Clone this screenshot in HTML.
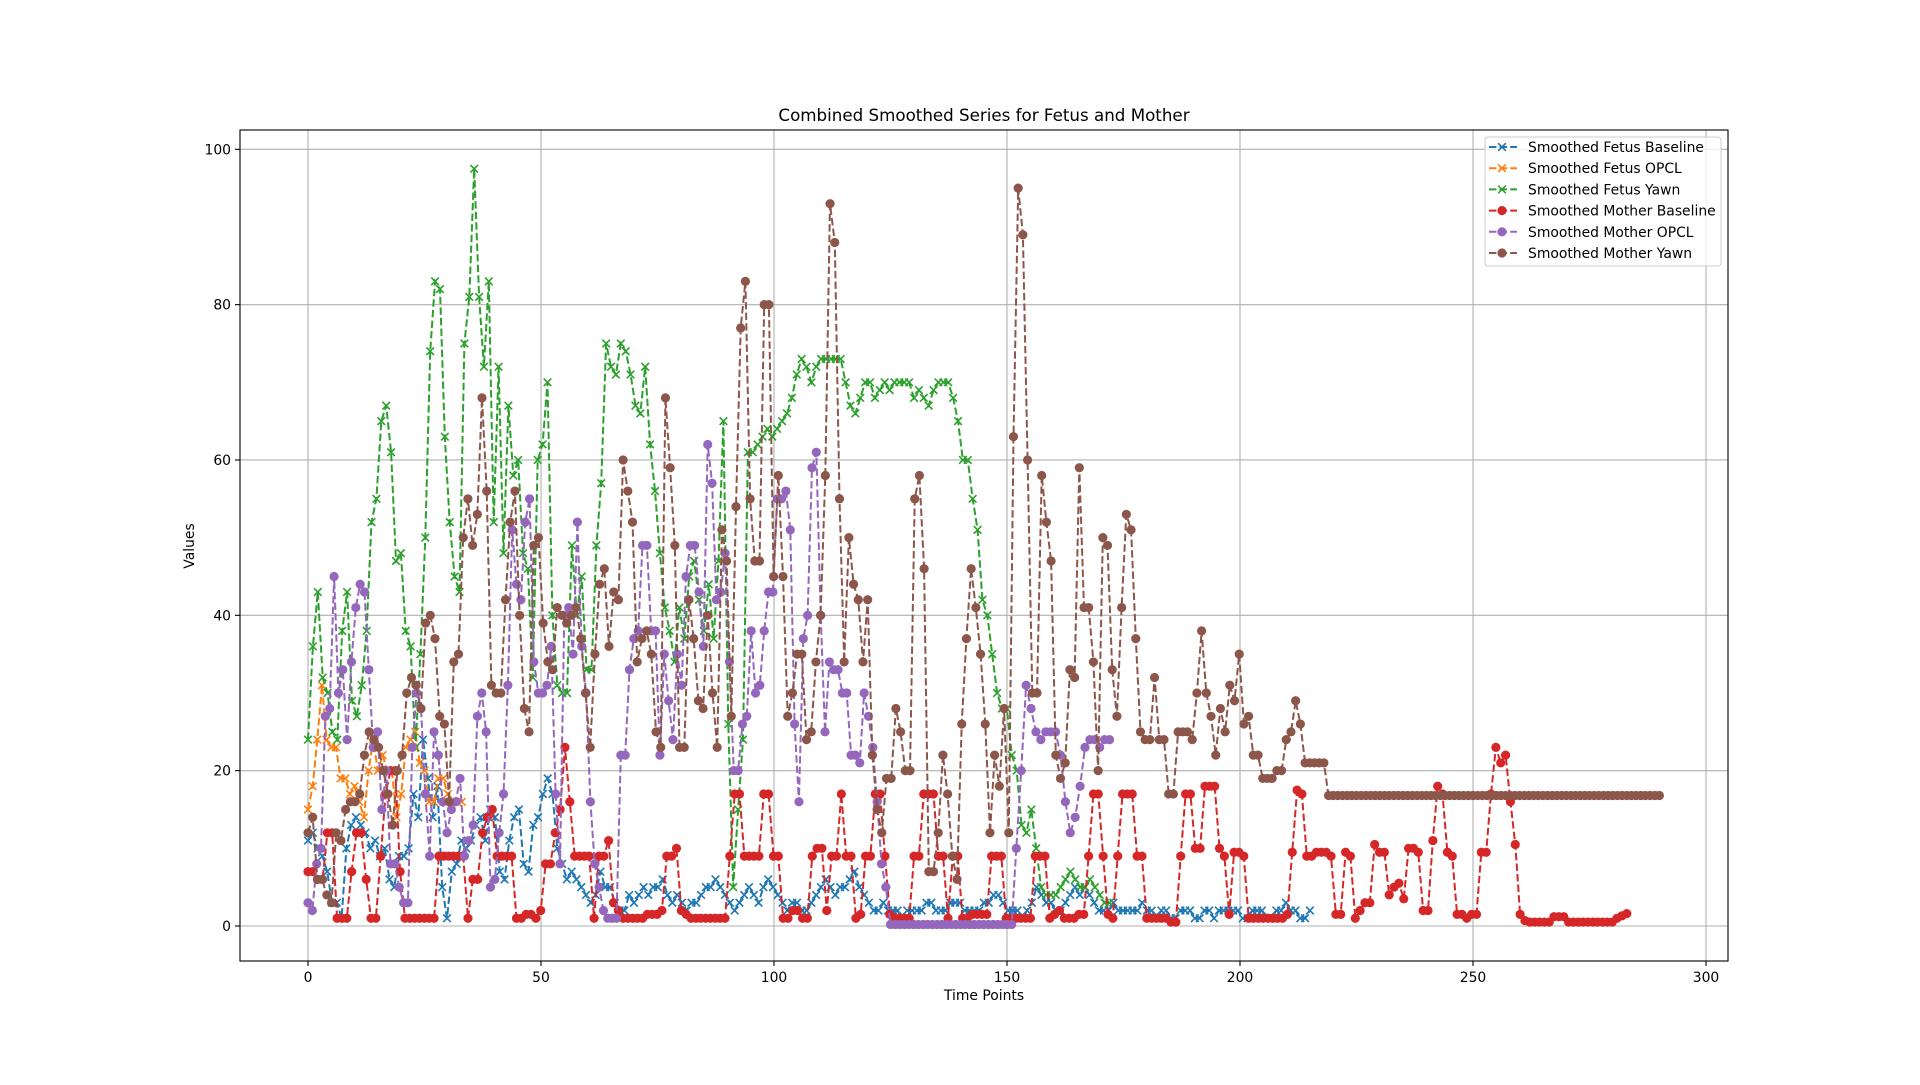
<!DOCTYPE html>
<html><head><meta charset="utf-8"><style>
html,body{margin:0;padding:0;background:#fff;}
svg text{font-family:"DejaVu Sans","Liberation Sans",sans-serif;fill:#000;}
</style></head><body>
<svg id="s" width="1920" height="1080" xmlns="http://www.w3.org/2000/svg">
<rect width="1920" height="1080" fill="#fff"/>
<g id="grid" stroke="#b0b0b0" stroke-width="1.1"></g>
<g id="data"></g>
<rect x="240" y="130" width="1488" height="831" fill="none" stroke="#000" stroke-width="1.1"/>
<g id="ticks" stroke="#000" stroke-width="1.1"></g>
<g id="labels" font-size="13.9"></g>
<text x="984" y="121" font-size="16.7" text-anchor="middle">Combined Smoothed Series for Fetus and Mother</text>
<text x="984" y="1000" font-size="13.9" text-anchor="middle">Time Points</text>
<text transform="translate(194,546) rotate(-90)" font-size="13.9" text-anchor="middle">Values</text>
<g id="legend"></g>
</svg>
<script>
const NS="http://www.w3.org/2000/svg";
function el(t,a,p){const e=document.createElementNS(NS,t);for(const k in a)e.setAttribute(k,a[k]);p.appendChild(e);return e;}
const X=x=>308+x*4.66, Y=y=>926-y*7.767;
const grid=document.getElementById('grid'),ticks=document.getElementById('ticks'),labels=document.getElementById('labels');
for(let v=0;v<=300;v+=50){const x=X(v);el('line',{x1:x,x2:x,y1:130,y2:961},grid);el('line',{x1:x,x2:x,y1:961,y2:966},ticks);const t=el('text',{x:x,y:982,'text-anchor':'middle'},labels);t.textContent=v;}
for(let v=0;v<=100;v+=20){const y=Y(v);el('line',{x1:240,x2:1728,y1:y,y2:y},grid);el('line',{x1:235,x2:240,y1:y,y2:y},ticks);const t=el('text',{x:231,y:y+5,'text-anchor':'end'},labels);t.textContent=v;}
function stretch(arr,x0,x1){const n=arr.length;return arr.map((v,i)=>[x0+(n>1?i*(x1-x0)/(n-1):0),v]);}
const blue=[11,12,10,9,7,3,3,1,10,13,14,13,12,10,11,9,10,6,5,9,9,10,17,14,24,19,14,18,5,1,7,8,11,10,11,13,14,11,15,14,7,6,11,14,15,8,7,13,14,17,19,17,10,8,6,7,6,5,4,3,4,7,5,5,3,2,2,4,3,4,5,4,5,5,6,4,3,4,3,2,3,3,4,5,5,6,5,4,3,2,3,4,5,4,3,5,6,5,4,3,2,3,3,2,2,3,4,5,6,5,4,5,5,6,7,5,4,3,2,2,3,2,2,2,1,2,2,2,2,3,3,2,2,2,3,3,3,2,2,2,2,3,3,4,4,3,2,2,2,1,2,3,5,4,3,3,2,2,3,4,5,4,5,4,3,2,2,2,3,2,2,2,2,2,3,2,2,1,2,2,1,1,2,2,2,1,1,2,2,1,2,2,2,2,2,1,1,2,2,2,1,1,2,2,3,2,2,1,1,2];
const orange=[15,18,24,31,24,23,23,19,19,17,18,16,14,20,24,20,22,20,20,14,17,23,24,25,21,20,16,16,19,19,17,16,16,16];
const green=[24,36,43,32,30,25,24,38,43,29,27,31,38,52,55,65,67,61,47,48,38,36,23,35,50,74,83,82,63,52,45,43,75,81,97.5,81,72,83,52,72,48,67,58,60,48,46,32,60,62,70,40,31,30,30,49,40,45,33,33,49,57,75,72,71,75,74,71,67,66,72,62,56,48,41,38,34,41,37,45,47,42,38,44,37,47,65,26,5,15,24,61,61,62,63,64,63,64,65,66,68,71,73,72,70,72,73,73,73,73,73,70,67,66,68,70,70,68,69,70,69,70,70,70,70,68,69,68,67,69,70,70,70,68,65,60,60,55,51,42,40,35,30,28,28,22,20,13,12,15,10,5,4,4,4,5,6,7,6,5,5,6,5,4,3,3];
const red=[7,7,6,6,12,12,1,1,1,7,12,12,6,1,1,9,17,20,20,7,1,1,1,1,1,1,1,9,9,9,9,9,9,1,6,6,12,14,15,9,9,9,9,1,1,1.5,1.5,1,2,8,8,12,15,23,16,9,9,9,9,1,9,9,11,3,2,1,1,1,1,1,1.5,1.5,1.5,2,9,9,10,2,1.5,1,1,1,1,1,1,1,1,9,17,17,9,9,9,9,17,17,9,9,1,1,2,2,1,1,9,10,10,2,9,9,17,9,9,1,1.5,9,9,17,17,9,1.5,1,1,1,1,9,9,17,17,17,9,9,1,9,9,1,1,1.5,1.5,1.5,1.5,9,9,9,1,1,1,1,1,1,9,9,9,1,1.5,2,1,1,1,1.5,1.5,9,17,17,9,1.5,1,9,17,17,17,9,9,1,1,1,1,1,0.5,0.5,9,17,17,10,10,18,18,18,10,9,1.5,9.5,9.5,9,1,1,1,1,1,1,1,1,1.5,9.5,17.5,17,9,9,9.5,9.5,9.5,9,1.5,1.5,9.5,9,1,2,3,3,10.5,9.5,9.5,4,5,5.5,3.5,10,10,9.5,2,2,11,18,17,9.5,9,1.5,1.5,1,1.5,1.5,9.5,9.5,17,23,21,22,16,10.5,1.5,0.7,0.5,0.5,0.5,0.5,0.5,1.2,1.2,1.2,0.5,0.5,0.5,0.5,0.5,0.5,0.5,0.5,0.5,0.5,1,1.3,1.6];
const purpleA=[3,2,8,10,27,28,45,30,33,24,34,41,44,43,33,23,25,15,20,8,8,5,3,3,23,30,28,17,9,25,22,16,12,15,16,19,9,11,13,27,30,25,5,6,12,17,31,51,44,42,52,55,34,30,30,31,36,17,8,40,41,35,52,36,30,16,8,5,2,1,1,1,22,22,33,37,38,49,49,38,38,22,35,29,24,35,31,45,49,49,43,36,62,57,42,43,48,34,20,20,26,27,38,30,31,38,43,43,55,55,56,51,26,16,37,40,59,61,40,25,34,33,33,30,30,22,22,21,30,27,23,16,8,5];
const purpleB=[10,20,31,28,25,24,25,25,25,22,16,12,14,18,23,24,24,23,24,24];
const brownA=[12,14,6,6,4,3,12,11,15,16,16,17,22,25,24,23,20,17,13,20,22,30,32,31,28,39,40,37,27,26,16,34,35,50,55,49,53,68,56,31,30,30,42,52,56,40,28,25,49,50,39,34,33,41,40,39,40,41,37,30,23,35,44,46,36,43,42,60,56,52,34,37,38,35,25,23,68,59,49,23,23,42,37,29,28,40,30,23,51,47,27,54,77,83,55,47,47,80,80,45,58,45,27,30,35,35,24,25,34,40,58,93,88,55,34,50,44,42,34,42,22,15,12,19,19,28,25,20,20,55,58,46,7,7,12,22,17,9,6,26,37,46,41,35,26,12,22,18,28,12,63,95,89,60,30,30,58,52,47,22,19,21,33,32,59,41,41,34,20,50,49,33,27,41,53,51,37,25,24,24,32,24,24,17,17,25,25,25,24,30,38,30,27,22,28,25,31,29,35,26,27,22,22,19,19,19,20,20,24,25,29,26,21,21,21,21,21];
const purpleFlat=[];for(let x=125;x<=151;x++)purpleFlat.push([x,0.2]);
const brownFlat=[];for(let x=219;x<=290;x++)brownFlat.push([x,16.8]);
const series=[
 {c:'#1f77b4',m:'x',d:stretch(blue,0,215)},
 {c:'#ff7f0e',m:'x',d:stretch(orange,0,33)},
 {c:'#2ca02c',m:'x',d:stretch(green,0,172)},
 {c:'#d62728',m:'o',d:stretch(red,0,283)},
 {c:'#9467bd',m:'o',d:stretch(purpleA,0,124).concat(purpleFlat,stretch(purpleB,152,172))},
 {c:'#8c564b',m:'o',d:stretch(brownA,0,218).concat(brownFlat)}
];
const g=document.getElementById('data');
function marker(m,x,y,c,p){if(m==='o')el('circle',{cx:x,cy:y,r:4.6,fill:c},p);else{const r=3.8;el('path',{d:`M${x-r},${y-r}L${x+r},${y+r}M${x-r},${y+r}L${x+r},${y-r}`,stroke:c,'stroke-width':1.6,fill:'none'},p);}}
series.forEach(s=>{const pts=s.d.map(([x,y])=>X(x).toFixed(1)+','+Y(y).toFixed(1)).join(' ');el('polyline',{points:pts,fill:'none',stroke:s.c,'stroke-width':2,'stroke-dasharray':'7.4,3.2'},g);s.d.forEach(([x,y])=>marker(s.m,X(x),Y(y),s.c,g));});
const lg=document.getElementById('legend');
el('rect',{x:1485,y:137,width:236,height:129,rx:3,fill:'#fff','fill-opacity':0.8,stroke:'#ccc','stroke-width':1},lg);
const names=['Smoothed Fetus Baseline','Smoothed Fetus OPCL','Smoothed Fetus Yawn','Smoothed Mother Baseline','Smoothed Mother OPCL','Smoothed Mother Yawn'];
names.forEach((n,i)=>{const y=147+i*21.2;const s=series[i];el('line',{x1:1489,x2:1517,y1:y,y2:y,stroke:s.c,'stroke-width':2,'stroke-dasharray':'7.4,3.2'},lg);marker(s.m,1502,y,s.c,lg);const t=el('text',{x:1528,y:y+5,'font-size':13.9},lg);t.textContent=n;});
</script>
</body></html>
